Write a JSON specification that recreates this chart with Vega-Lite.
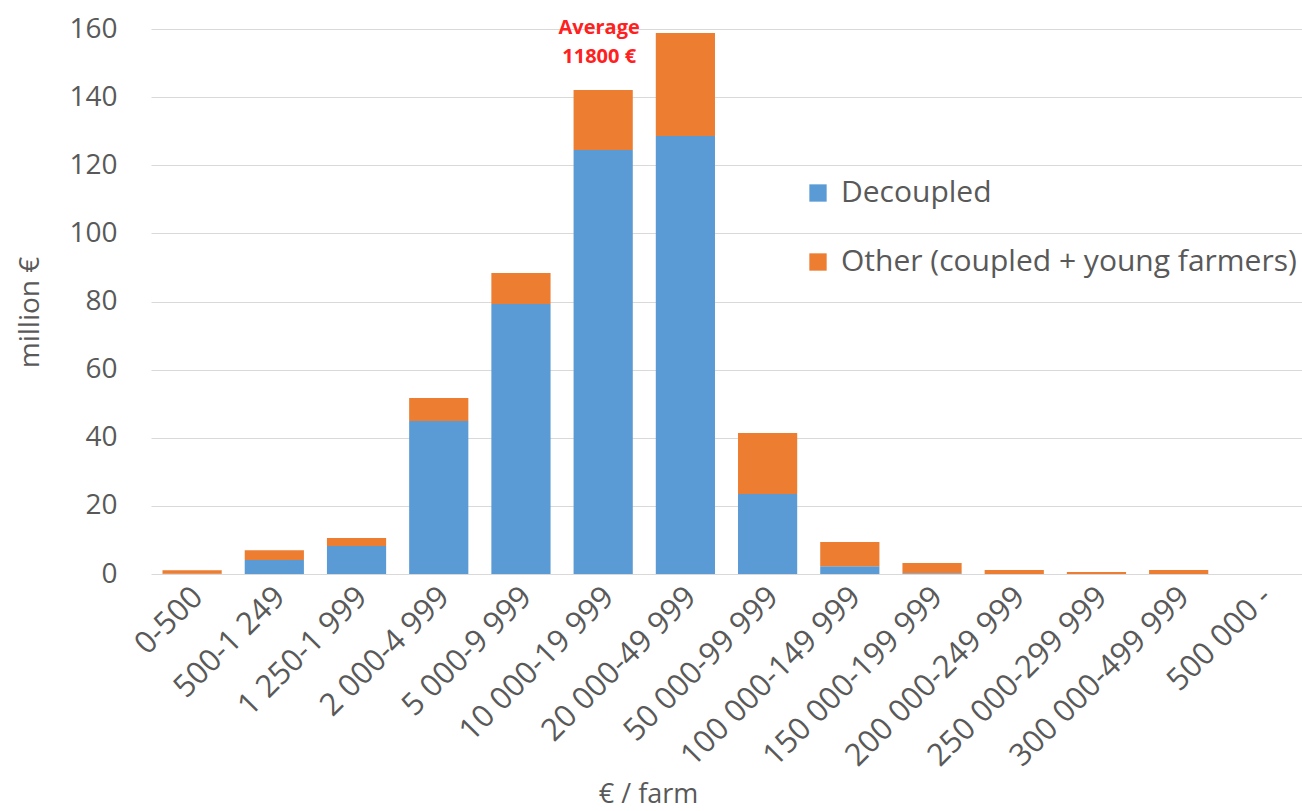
{
  "$schema": "https://vega.github.io/schema/vega-lite/v6.json",
  "width": 1151,
  "height": 545,
  "autosize": {"type": "none"},
  "padding": {"left": 151, "top": 29, "right": 0, "bottom": 237},
  "background": "white",
  "config": {
    "font": "Open Sans",
    "view": {"stroke": null},
    "axis": {"labelFont": "Open Sans", "titleFont": "Open Sans", "labelColor": "#595959", "titleColor": "#595959", "titleFontWeight": "normal"}
  },
  "datasets": {
    "bars": [
      {"cat": "0-500", "type": "Decoupled", "v": 0.1},
      {"cat": "0-500", "type": "Other (coupled + young farmers)", "v": 1.0},
      {"cat": "500-1 249", "type": "Decoupled", "v": 4.1},
      {"cat": "500-1 249", "type": "Other (coupled + young farmers)", "v": 2.9},
      {"cat": "1 250-1 999", "type": "Decoupled", "v": 8.2},
      {"cat": "1 250-1 999", "type": "Other (coupled + young farmers)", "v": 2.4},
      {"cat": "2 000-4 999", "type": "Decoupled", "v": 44.9},
      {"cat": "2 000-4 999", "type": "Other (coupled + young farmers)", "v": 6.8},
      {"cat": "5 000-9 999", "type": "Decoupled", "v": 79.3},
      {"cat": "5 000-9 999", "type": "Other (coupled + young farmers)", "v": 9.1},
      {"cat": "10 000-19 999", "type": "Decoupled", "v": 124.5},
      {"cat": "10 000-19 999", "type": "Other (coupled + young farmers)", "v": 17.6},
      {"cat": "20 000-49 999", "type": "Decoupled", "v": 128.6},
      {"cat": "20 000-49 999", "type": "Other (coupled + young farmers)", "v": 30.2},
      {"cat": "50 000-99 999", "type": "Decoupled", "v": 23.5},
      {"cat": "50 000-99 999", "type": "Other (coupled + young farmers)", "v": 17.9},
      {"cat": "100 000-149 999", "type": "Decoupled", "v": 2.3},
      {"cat": "100 000-149 999", "type": "Other (coupled + young farmers)", "v": 7.1},
      {"cat": "150 000-199 999", "type": "Decoupled", "v": 0.2},
      {"cat": "150 000-199 999", "type": "Other (coupled + young farmers)", "v": 3.0},
      {"cat": "200 000-249 999", "type": "Decoupled", "v": 0.0},
      {"cat": "200 000-249 999", "type": "Other (coupled + young farmers)", "v": 1.2},
      {"cat": "250 000-299 999", "type": "Decoupled", "v": 0.0},
      {"cat": "250 000-299 999", "type": "Other (coupled + young farmers)", "v": 0.6},
      {"cat": "300 000-499 999", "type": "Decoupled", "v": 0.0},
      {"cat": "300 000-499 999", "type": "Other (coupled + young farmers)", "v": 1.2},
      {"cat": "500 000 -", "type": "Decoupled", "v": 0.0},
      {"cat": "500 000 -", "type": "Other (coupled + young farmers)", "v": 0.0}
    ],
    "note": [
      {"cat": "10 000-19 999", "y": 163.2, "label": ["Average", "11800 €"]}
    ]
  },
  "layer": [
    {
      "data": {"name": "bars"},
      "mark": {"type": "bar"},
      "encoding": {
        "x": {
          "field": "cat", "type": "nominal", "sort": null,
          "scale": {"paddingInner": 0.28, "paddingOuter": 0.14},
          "axis": {
            "title": "€ / farm", "titleFontSize": 27, "titleX": 497, "titleY": 207, "titleBaseline": "top",
            "labelAngle": -45, "labelFontSize": 31, "labelPadding": 18, "labelOffset": 6, "labelLimit": 0,
            "ticks": false, "domain": false, "labelBaseline": "middle", "labelAlign": "right"
          }
        },
        "y": {
          "field": "v", "type": "quantitative", "stack": "zero",
          "scale": {"domain": [0, 160]},
          "axis": {
            "title": "million €", "titleFontSize": 28, "titleX": -121, "titleY": 283, "titleBaseline": "middle", "titleAngle": -90,
            "values": [0, 20, 40, 60, 80, 100, 120, 140, 160],
            "labelFontSize": 28, "labelPadding": 34, "ticks": false, "domain": false,
            "gridColor": "#d9d9d9", "gridWidth": 1.2
          }
        },
        "color": {
          "field": "type", "type": "nominal",
          "scale": {"domain": ["Decoupled", "Other (coupled + young farmers)"], "range": ["#5B9BD5", "#ED7D31"]},
          "legend": {
            "title": null, "orient": "none", "legendX": 652, "legendY": 149,
            "symbolType": "square", "symbolSize": 300, "symbolStrokeWidth": 0,
            "labelFontSize": 30, "labelColor": "#595959", "labelFont": "Open Sans", "labelLimit": 0,
            "rowPadding": 39, "labelOffset": 8
          }
        },
        "order": {"field": "type", "sort": "ascending"}
      }
    },
    {
      "data": {"name": "note"},
      "mark": {"type": "text", "color": "#FF2020", "fontWeight": "bold", "fontSize": 20, "font": "Open Sans", "baseline": "top", "lineHeight": 29, "dx": -4},
      "encoding": {
        "x": {"field": "cat", "type": "nominal", "sort": null},
        "y": {"field": "y", "type": "quantitative"},
        "text": {"field": "label"}
      }
    }
  ]
}
